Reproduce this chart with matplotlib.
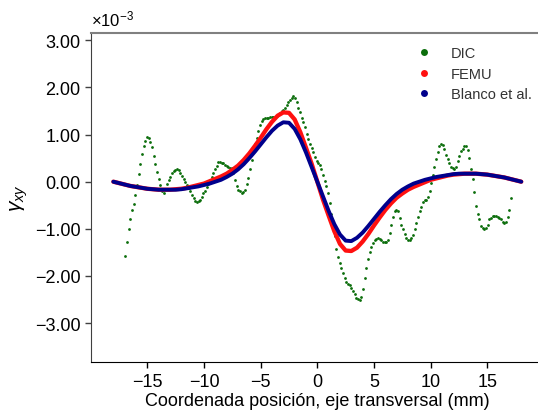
import numpy as np
import matplotlib
matplotlib.use("Agg")
import matplotlib.pyplot as plt
from matplotlib.lines import Line2D

plt.rcParams["font.family"] = ["Liberation Sans", "DejaVu Sans"]
plt.rcParams["mathtext.fontset"] = "custom"
plt.rcParams["mathtext.rm"] = "Liberation Sans"
plt.rcParams["mathtext.it"] = "Liberation Sans:italic"

# --- DIC measurements (shear strain, x1e-3) on a uniform grid across the section
dic_x_start, dic_x_stop, dic_n = -16.94, 17.09, 233
dic_gamma = [
    -1.58, -1.27, -1.01, -0.79, -0.61, -0.47, -0.29, -0.07, 0.16, 0.38,
    0.58, 0.75, 0.87, 0.94, 0.93, 0.85, 0.73, 0.55, 0.37, 0.21,
    0.06, -0.08, -0.20, -0.25, -0.16, -0.05, 0.04, 0.11, 0.18, 0.22,
    0.25, 0.27, 0.24, 0.18, 0.13, 0.06, 0.00, -0.06, -0.13, -0.20,
    -0.28, -0.35, -0.40, -0.42, -0.41, -0.38, -0.32, -0.25, -0.19, -0.12,
    -0.04, 0.04, 0.11, 0.18, 0.27, 0.34, 0.41, 0.42, 0.40, 0.39,
    0.36, 0.33, 0.32, 0.30, 0.28, 0.18, 0.03, -0.10, -0.18, -0.20,
    -0.23, -0.22, -0.17, -0.05, 0.08, 0.26, 0.46, 0.65, 0.79, 0.93,
    1.07, 1.21, 1.29, 1.33, 1.35, 1.36, 1.36, 1.37, 1.37, 1.38,
    1.38, 1.39, 1.41, 1.45, 1.49, 1.52, 1.57, 1.63, 1.68, 1.73,
    1.78, 1.81, 1.78, 1.68, 1.57, 1.47, 1.36, 1.26, 1.15, 1.02,
    0.91, 0.81, 0.71, 0.62, 0.52, 0.44, 0.39, 0.35, 0.26, 0.14,
    0.01, -0.10, -0.25, -0.45, -0.68, -0.90, -1.15, -1.42, -1.59, -1.72,
    -1.84, -1.94, -2.04, -2.13, -2.18, -2.20, -2.25, -2.32, -2.39, -2.46,
    -2.49, -2.51, -2.45, -2.27, -2.05, -1.82, -1.64, -1.50, -1.38, -1.30,
    -1.24, -1.21, -1.20, -1.21, -1.24, -1.27, -1.28, -1.28, -1.24, -1.09,
    -0.91, -0.74, -0.63, -0.59, -0.63, -0.78, -0.91, -1.01, -1.11, -1.19,
    -1.23, -1.24, -1.19, -1.12, -1.00, -0.88, -0.75, -0.63, -0.54, -0.43,
    -0.39, -0.38, -0.33, -0.20, -0.03, 0.15, 0.32, 0.48, 0.62, 0.75,
    0.80, 0.78, 0.69, 0.57, 0.48, 0.39, 0.32, 0.29, 0.27, 0.32,
    0.43, 0.55, 0.66, 0.70, 0.76, 0.75, 0.68, 0.50, 0.27, 0.05,
    -0.22, -0.51, -0.68, -0.80, -0.93, -0.99, -1.01, -0.98, -0.91, -0.80,
    -0.76, -0.72, -0.72, -0.73, -0.75, -0.77, -0.80, -0.86, -0.87, -0.86,
    -0.75, -0.61, -0.35,
]

# --- model curves (x1e-3), sampled every 0.5 mm from -18 to 18 mm
model_x = [-18.0 + 0.5 * k for k in range(73)]
femu_gamma = [
    0.00, -0.03, -0.06, -0.09, -0.11, -0.13, -0.15, -0.16, -0.17, -0.17,
    -0.17, -0.16, -0.15, -0.13, -0.10, -0.07, -0.04, 0.01, 0.06, 0.11,
    0.17, 0.25, 0.34, 0.46, 0.60, 0.76, 0.93, 1.11, 1.27, 1.40,
    1.47, 1.46, 1.32, 1.05, 0.72, 0.38, 0.00, -0.38, -0.72, -1.05,
    -1.32, -1.46, -1.47, -1.40, -1.27, -1.11, -0.93, -0.76, -0.60, -0.46,
    -0.34, -0.25, -0.17, -0.11, -0.06, -0.01, 0.04, 0.07, 0.10, 0.13,
    0.15, 0.16, 0.17, 0.17, 0.17, 0.16, 0.15, 0.13, 0.11, 0.09,
    0.06, 0.03, 0.00,
]
blanco_gamma = [
    0.00, -0.03, -0.06, -0.09, -0.11, -0.13, -0.15, -0.16, -0.17, -0.17,
    -0.17, -0.17, -0.16, -0.14, -0.12, -0.10, -0.07, -0.04, 0.00, 0.04,
    0.10, 0.17, 0.26, 0.37, 0.50, 0.64, 0.79, 0.94, 1.08, 1.19,
    1.26, 1.25, 1.12, 0.90, 0.62, 0.31, 0.00, -0.31, -0.62, -0.90,
    -1.12, -1.25, -1.26, -1.19, -1.08, -0.94, -0.79, -0.64, -0.50, -0.37,
    -0.26, -0.17, -0.10, -0.04, 0.00, 0.04, 0.07, 0.10, 0.12, 0.14,
    0.16, 0.17, 0.17, 0.17, 0.17, 0.16, 0.15, 0.13, 0.11, 0.09,
    0.06, 0.03, 0.00,
]

series_labels = ["DIC", "FEMU", "Blanco et al."]
series_colors = ["#0b6e0b", "#ff1010", "#00008c"]

x_ticks = [-15, -10, -5, 0, 5, 10, 15]
y_ticks = [-3, -2, -1, 0, 1, 2, 3]

fig = plt.figure(figsize=(5.38, 4.14), dpi=100)
ax = fig.add_axes([0.1686, 0.1225, 0.8424, 0.7961])

dic_x = np.linspace(dic_x_start, dic_x_stop, dic_n)
ax.scatter(dic_x, dic_gamma, s=4, color=series_colors[0], linewidths=0, zorder=3)
ax.plot(model_x, femu_gamma, color=series_colors[1], lw=3.1,
        solid_capstyle="round", zorder=4)
ax.plot(model_x, blanco_gamma, color=series_colors[2], lw=2.8,
        solid_capstyle="round", zorder=5)

ax.set_xlim(-20, 20)
ax.set_ylim(-3.83, 3.16)
ax.set_xticks(x_ticks)
ax.set_xticklabels([f"{v:d}".replace("-", "\u2212") for v in x_ticks])
ax.set_yticks(y_ticks)
ax.set_yticklabels([f"{v:.2f}".replace("-", "\u2212") for v in y_ticks])
ax.tick_params(axis="both", labelsize=13, length=4, width=1, direction="out")
ax.tick_params(axis="y", color="#404040")

ax.spines["top"].set_color("#808080")
ax.spines["top"].set_linewidth(1.5)
ax.spines["left"].set_color("#404040")
ax.spines["bottom"].set_color("black")
ax.spines["right"].set_visible(False)

ax.text(0.0, 1.012, r"$\times$10$^{\mathregular{-3}}$".replace("-", "\u2212"),
        transform=ax.transAxes, ha="left", va="bottom", fontsize=12)

ax.set_xlabel("Coordenada posición, eje transversal (mm)", fontsize=13, labelpad=2)
ax.set_ylabel(r"$\gamma_{xy}$", fontsize=15, labelpad=3)

handles = [Line2D([], [], ls="none", marker="o", ms=5, mew=0, color=c)
           for c in series_colors]
leg = ax.legend(handles, series_labels, loc="upper left",
                bbox_to_anchor=(0.751, 0.918), bbox_transform=fig.transFigure,
                frameon=False, fontsize=10.5, handlelength=1.0,
                handletextpad=1.3, labelspacing=0.45, borderpad=0.4)
for t in leg.get_texts():
    t.set_color("#333333")

fig.savefig("out.png", dpi=100)
